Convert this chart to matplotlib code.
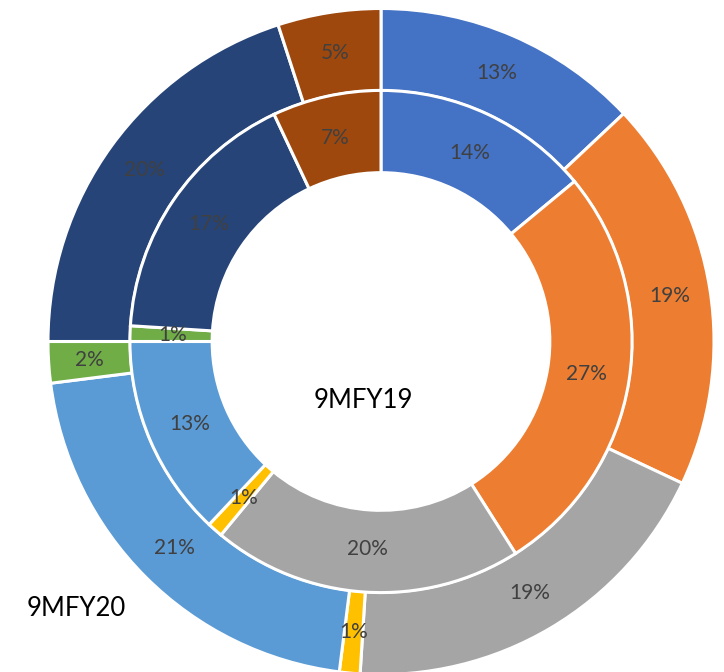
import matplotlib
matplotlib.use("Agg")
import matplotlib.pyplot as plt

plt.rcParams['font.family'] = ['Lato', 'DejaVu Sans']

# segment order, clockwise from 12 o'clock
colors = ['#4472C4', '#ED7D31', '#A5A5A5', '#FFC000',
          '#5B9BD5', '#70AD47', '#264478', '#9E480E']

# outer ring: 9MFY20, inner ring: 9MFY19 (share in %)
share_fy20 = [13, 19, 19, 1, 21, 2, 20, 5]
share_fy19 = [14, 27, 20, 1, 13, 1, 17, 7]

W, H = 724, 672
R = 333.0          # outer radius in px
cx, cy = 381.0, 341.5

fig = plt.figure(figsize=(W / 100, H / 100), dpi=100)
ax = fig.add_axes([0, 0, 1, 1])

ring_w = 0.247
wedge_kw = dict(width=ring_w, edgecolor='white', linewidth=2.2)
text_kw = dict(color='#404040', fontsize=15)

ax.pie(share_fy20, colors=colors, radius=1.0, startangle=90, counterclock=False,
       wedgeprops=wedge_kw, autopct='%.0f%%', pctdistance=0.877,
       textprops=text_kw)
ax.pie(share_fy19, colors=colors, radius=0.754, startangle=90, counterclock=False,
       wedgeprops=wedge_kw, autopct='%.0f%%', pctdistance=0.83,
       textprops=text_kw)

ax.set_aspect('equal')
ax.set_xlim(-cx / R, (W - cx) / R)
ax.set_ylim(-(H - cy) / R, cy / R)
ax.axis('off')

fig.text(363 / W, 1 - 400 / H, '9MFY19', ha='center', va='center',
         fontsize=18.5, color='black')
fig.text(76 / W, 1 - 608 / H, '9MFY20', ha='center', va='center',
         fontsize=18.5, color='black')

fig.savefig('out.png', dpi=100)
